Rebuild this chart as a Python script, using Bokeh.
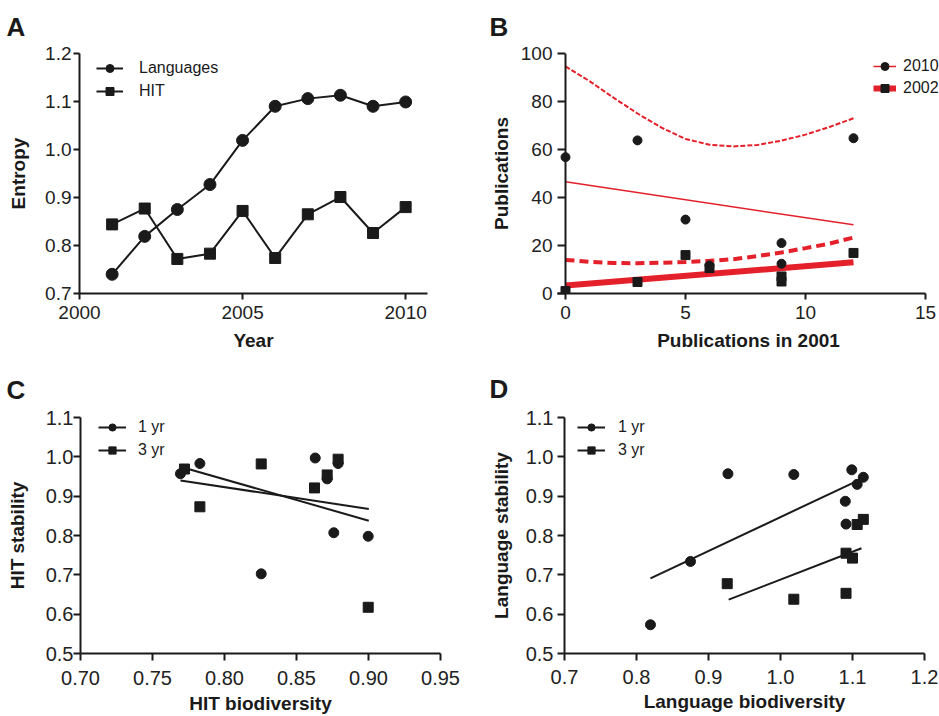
from bokeh.plotting import figure
from bokeh.models import (Range1d, FixedTicker, PrintfTickFormatter, Legend,
                          LegendItem, Span)
from bokeh.layouts import row, column
from bokeh.embed import file_html
from bokeh.resources import INLINE

FONT = "Liberation Sans"
INK = "#1a1a1a"
RED = "#e4202a"

# ---------------- Panel A: entropy over years ----------------
a_years = [2001, 2002, 2003, 2004, 2005, 2006, 2007, 2008, 2009, 2010]
a_languages = [0.740, 0.819, 0.875, 0.927, 1.019, 1.090, 1.106, 1.113, 1.090, 1.099]
a_hit = [0.844, 0.877, 0.772, 0.783, 0.872, 0.774, 0.865, 0.901, 0.826, 0.880]
a_xticks = [2000, 2005, 2010]
a_yticks = [0.7, 0.8, 0.9, 1.0, 1.1, 1.2]

# ---------------- Panel B: publications ----------------
b_x_2010 = [0, 3, 5, 6, 9, 9, 12]
b_y_2010 = [56.8, 63.8, 30.8, 11.7, 21.0, 12.4, 64.7]
b_x_2002 = [0, 3, 5, 6, 9, 9, 12]
b_y_2002 = [1.0, 4.8, 16.0, 10.6, 7.1, 5.0, 16.9]
b_fit_x = [0, 12]
b_fit_2010 = [46.6, 28.6]
b_fit_2002 = [3.3, 13.0]
b_band_x = [0, 1, 2, 3, 4, 5, 6, 7, 8, 9, 10, 11, 12]
b_band_2010_upper = [94.6, 88.5, 81.6, 75.0, 69.1, 64.4, 62.0, 61.3, 61.9, 63.7, 66.2, 69.4, 73.0]
b_band_2002_upper = [14.0, 13.2, 12.7, 12.6, 12.8, 13.1, 13.6, 14.3, 15.6, 17.1, 18.9, 20.8, 23.3]
b_xticks = [0, 5, 10, 15]
b_yticks = [0, 20, 40, 60, 80, 100]

# ---------------- Panel C: HIT stability ----------------
c_x_1yr = [0.7694, 0.7829, 0.8255, 0.8630, 0.8713, 0.8759, 0.8789, 0.8998]
c_y_1yr = [0.957, 0.983, 0.7025, 0.997, 0.944, 0.807, 0.983, 0.798]
c_x_3yr = [0.7722, 0.7829, 0.8255, 0.8625, 0.8713, 0.8789, 0.8998]
c_y_3yr = [0.969, 0.873, 0.982, 0.921, 0.954, 0.994, 0.6175]
c_fit_x = [0.7694, 0.9002]
c_fit_1yr = [0.940, 0.8675]
c_fit_3yr = [0.975, 0.8375]
c_xticks = [0.70, 0.75, 0.80, 0.85, 0.90, 0.95]
c_yticks = [0.5, 0.6, 0.7, 0.8, 0.9, 1.0, 1.1]

# ---------------- Panel D: Language stability ----------------
d_x_1yr = [0.8194, 0.875, 0.927, 1.0185, 1.090, 1.091, 1.099, 1.1065, 1.115]
d_y_1yr = [0.573, 0.734, 0.957, 0.955, 0.887, 0.829, 0.967, 0.930, 0.948]
d_x_3yr = [0.926, 1.0185, 1.091, 1.091, 1.100, 1.1065, 1.115]
d_y_3yr = [0.6775, 0.638, 0.653, 0.755, 0.7425, 0.828, 0.841]
d_fit_1yr_x = [0.8194, 1.109]
d_fit_1yr = [0.691, 0.941]
d_fit_3yr_x = [0.928, 1.1125]
d_fit_3yr = [0.637, 0.7675]
d_xticks = [0.7, 0.8, 0.9, 1.0, 1.1, 1.2]
d_yticks = [0.5, 0.6, 0.7, 0.8, 0.9, 1.0, 1.1]


def make_fig(xr, yr, w, h, bl, br, bt, bb, letter, loff, lstand):
    p = figure(x_range=Range1d(*xr), y_range=Range1d(*yr), width=w, height=h,
               min_border_left=bl, min_border_right=br, min_border_top=bt,
               min_border_bottom=bb, toolbar_location=None, output_backend="svg",
               title=letter)
    p.xgrid.visible = False
    p.ygrid.visible = False
    p.outline_line_color = None
    p.background_fill_color = "white"
    p.border_fill_color = "white"
    p.title.align = "left"
    p.title.vertical_align = "top"
    p.title.offset = loff
    p.title.standoff = lstand
    p.title.text_font = FONT
    p.title.text_font_size = "26px"
    p.title.text_font_style = "bold"
    p.title.text_color = INK
    return p


def style_axes(p, xlabel, ylabel, xticks, yticks, xfmt, yfmt, tick_font="19px",
               xtick_out=6, xstand=6, xlab_stand=8,
               ytick_out=6, ystand=2, ylab_stand=13):
    xa = p.xaxis[0]
    ya = p.yaxis[0]
    xa.ticker = FixedTicker(ticks=xticks)
    ya.ticker = FixedTicker(ticks=yticks)
    xa.formatter = PrintfTickFormatter(format=xfmt)
    ya.formatter = PrintfTickFormatter(format=yfmt)
    xa.axis_label = xlabel
    ya.axis_label = ylabel
    for ax in (xa, ya):
        ax.axis_line_width = 2
        ax.axis_line_color = INK
        ax.major_tick_line_width = 2
        ax.major_tick_line_color = INK
        ax.major_tick_in = 0
        ax.minor_tick_in = 0
        ax.minor_tick_out = 0
        ax.major_label_text_font = FONT
        ax.major_label_text_font_size = tick_font
        ax.major_label_text_color = "#222222"
        ax.axis_label_text_font = FONT
        ax.axis_label_text_font_size = "19px"
        ax.axis_label_text_font_style = "bold"
        ax.axis_label_text_color = INK
    xa.major_tick_out = xtick_out
    xa.major_label_standoff = xstand
    xa.axis_label_standoff = xlab_stand
    ya.major_tick_out = ytick_out
    ya.major_label_standoff = ystand
    ya.axis_label_standoff = ylab_stand


def add_legend(p, items, loc, gw, stand, gh=20, spacing=3):
    leg = Legend(items=items, location=loc, glyph_width=gw, glyph_height=gh,
                 label_height=gh, label_standoff=stand, spacing=spacing, padding=0,
                 margin=0, border_line_color=None, background_fill_alpha=0,
                 label_text_font=FONT, label_text_font_size="16px",
                 label_text_color=INK)
    p.add_layout(leg)


# ---- A ----
pA = make_fig((2000, 2010.67), (0.7, 1.2), 470, 360, 79, 43, 53, 67, "A", -73, 19)
style_axes(pA, "Year", "Entropy", a_xticks, a_yticks, "%d", "%.1f")
lA1 = pA.line(a_years, a_languages, line_color=INK, line_width=2)
sA1 = pA.scatter(a_years, a_languages, marker="circle", size=12, color=INK)
lA2 = pA.line(a_years, a_hit, line_color=INK, line_width=2)
sA2 = pA.scatter(a_years, a_hit, marker="square", size=11, color=INK)
add_legend(pA, [LegendItem(label="Languages", renderers=[lA1, sA1]),
                LegendItem(label="HIT", renderers=[lA2, sA2])], (17, 192), 27, 16)

# ---- B ----
pB = make_fig((-1 / 3, 15 + 14 / 24), (0, 100), 469, 360, 87, 0, 53, 67, "B", -68, 19)
style_axes(pB, "Publications in 2001", "Publications", b_xticks, b_yticks, "%d", "%d",
           ytick_out=0, ystand=5, ylab_stand=6)
pB.xaxis[0].bounds = (-1 / 3, 15)
pB.yaxis[0].axis_line_color = None
pB.yaxis[0].major_tick_in = 8
pB.add_layout(Span(location=0, dimension="height", line_color=INK, line_width=2))
lB1 = pB.line(b_fit_x, b_fit_2010, line_color=RED, line_width=1.5)
pB.line(b_band_x, b_band_2010_upper, line_color=RED, line_width=2, line_dash="5 2")
lB2 = pB.line(b_fit_x, b_fit_2002, line_color=RED, line_width=6)
pB.line(b_band_x, b_band_2002_upper, line_color=RED, line_width=4, line_dash="9 5")
sB1 = pB.scatter(b_x_2010, b_y_2010, marker="circle", size=9, color=INK)
sB2 = pB.scatter(b_x_2002, b_y_2002, marker="square", size=9, color=INK)
add_legend(pB, [LegendItem(label="2010", renderers=[lB1, sB1]),
                LegendItem(label="2002", renderers=[lB2, sB2])], (316, 195), 23, 7, spacing=2)

# ---- C ----
pC = make_fig((0.70, 0.95), (0.5, 1.1), 470, 356, 80, 30, 56, 60, "C", -74, 22)
style_axes(pC, "HIT biodiversity", "HIT stability", c_xticks, c_yticks, "%.2f", "%.1f",
           tick_font="20px", xtick_out=7, xstand=10, xlab_stand=5,
           ytick_out=7, ystand=0, ylab_stand=15)
lC1 = pC.line(c_fit_x, c_fit_1yr, line_color=INK, line_width=2)
lC2 = pC.line(c_fit_x, c_fit_3yr, line_color=INK, line_width=2)
sC1 = pC.scatter(c_x_1yr, c_y_1yr, marker="circle", size=10, color=INK)
sC2 = pC.scatter(c_x_3yr, c_y_3yr, marker="square", size=10, color=INK)
add_legend(pC, [LegendItem(label="1 yr", renderers=[lC1, sC1]),
                LegendItem(label="3 yr", renderers=[lC2, sC2])], (18, 194), 28, 12,
           gh=18, spacing=5)

# ---- D ----
pD = make_fig((0.7, 1.2), (0.5, 1.1), 469, 356, 94, 15, 57, 59, "D", -75, 23)
style_axes(pD, "Language biodiversity", "Language stability", d_xticks, d_yticks, "%.1f", "%.1f",
           tick_font="20px", xtick_out=7, xstand=9, xlab_stand=4,
           ytick_out=7, ystand=4, ylab_stand=11)
lD1 = pD.line(d_fit_1yr_x, d_fit_1yr, line_color=INK, line_width=2)
lD2 = pD.line(d_fit_3yr_x, d_fit_3yr, line_color=INK, line_width=2)
sD1 = pD.scatter(d_x_1yr, d_y_1yr, marker="circle", size=10, color=INK)
sD2 = pD.scatter(d_x_3yr, d_y_3yr, marker="square", size=10, color=INK)
add_legend(pD, [LegendItem(label="1 yr", renderers=[lD1, sD1]),
                LegendItem(label="3 yr", renderers=[lD2, sD2])], (13, 194), 28, 13,
           gh=18, spacing=5)

layout = column(row(pA, pB), row(pC, pD))
open("out.html", "w").write(file_html(layout, INLINE))
